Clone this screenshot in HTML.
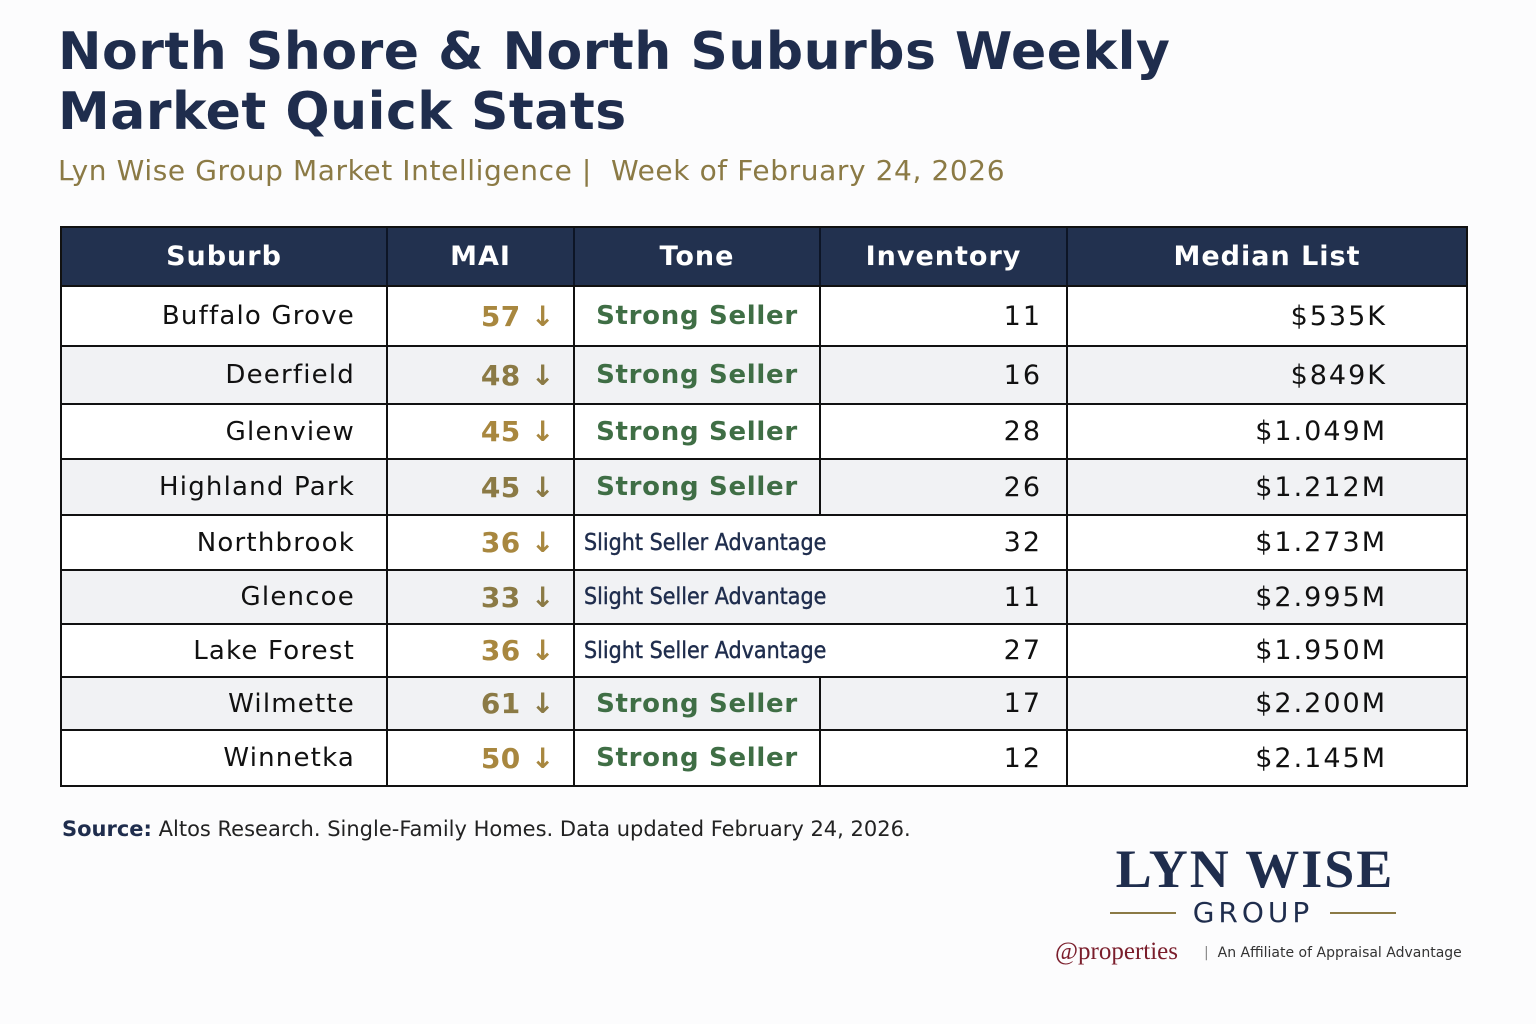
<!DOCTYPE html>
<html><head><meta charset="utf-8">
<style>
body{margin:0;width:1536px;height:1024px;background:#fcfcfd;position:relative;overflow:hidden;font-family:"DejaVu Sans","Liberation Sans",sans-serif}
.abs{position:absolute}
#title{left:58px;top:22px;font-weight:bold;font-size:52px;line-height:60px;color:#1f2d4d;letter-spacing:0.5px}
#sub{left:58px;top:154px;font-size:28px;color:#8b7a45;letter-spacing:0.6px}
#tbl{left:61px;top:227px;width:1406px;height:559px}
#frame{left:60px;top:226px;width:1408px;height:561px;border:2px solid #111;box-sizing:border-box;pointer-events:none}
.cell{position:absolute;box-sizing:border-box;display:flex;align-items:center;white-space:nowrap}
.hd{background:#22314f;color:#fff;font-weight:bold;font-size:27px;justify-content:center;letter-spacing:1px}
.vl{position:absolute;width:2px;background:#111}
.hl{position:absolute;height:2px;background:#111;left:0;width:1406px}
#src{left:62px;top:817px;font-size:21px;color:#222}
</style></head><body>
<div id="title" class="abs">North Shore &amp; North Suburbs Weekly<br>Market Quick Stats</div>
<div id="sub" class="abs">Lyn Wise Group Market Intelligence | &nbsp;Week of February 24, 2026</div>
<div id="tbl" class="abs"></div>
<div id="frame" class="abs"></div>
<div id="src" class="abs"><b style="color:#1f2d4d">Source:</b> Altos Research. Single-Family Homes. Data updated February 24, 2026.</div>
<div class="abs" style="left:1095px;top:838px;width:320px;text-align:center;font-family:'Liberation Serif',serif;font-weight:bold;font-size:54px;color:#1f2d4d;letter-spacing:2px">LYN WISE</div>
<div class="abs" style="left:1110px;top:896px;width:286px;height:34px">
<div class="abs" style="left:0;top:16px;width:66px;height:2px;background:#8b7a45"></div>
<div class="abs" style="left:68px;top:0;width:150px;text-align:center;font-size:28px;letter-spacing:4px;color:#1f2d4d">GROUP</div>
<div class="abs" style="left:220px;top:16px;width:66px;height:2px;background:#8b7a45"></div>
</div>
<div class="abs" style="left:1055px;top:938px;font-family:'Liberation Serif',serif;font-size:25px;color:#7a1d2b">@properties</div>
<div class="abs" style="left:1204px;top:945px;font-size:14px;color:#333"><span style="color:#888">|</span>&nbsp; An Affiliate of Appraisal Advantage</div>
<script>
const suburbs=["Buffalo Grove","Deerfield","Glenview","Highland Park","Northbrook","Glencoe","Lake Forest","Wilmette","Winnetka"];
const mai=[57,48,45,45,36,33,36,61,50];
const tones=["Strong Seller","Strong Seller","Strong Seller","Strong Seller","Slight Seller Advantage","Slight Seller Advantage","Slight Seller Advantage","Strong Seller","Strong Seller"];
const inventory=[11,16,28,26,32,11,27,17,12];
const medianList=["$535K","$849K","$1.049M","$1.212M","$1.273M","$2.995M","$1.950M","$2.200M","$2.145M"];
const headers=["Suburb","MAI","Tone","Inventory","Median List"];
const tbl=document.getElementById('tbl');
const colX=[0,326,513,759,1006,1406];
const rowY=[0,59,119,177,232,288,343,397,450,503,559];
function mk(x,y,w,h,cls,html,css){const d=document.createElement('div');d.className='cell '+cls;d.style.left=x+'px';d.style.top=y+'px';d.style.width=w+'px';d.style.height=h+'px';if(css)d.style.cssText+=css;d.innerHTML=html;tbl.appendChild(d);return d;}
headers.forEach((h,i)=>{const d=mk(colX[i],0,colX[i+1]-colX[i],59,'hd',h);

});
suburbs.forEach((s,r)=>{
 const y=rowY[r+1],h=rowY[r+2]-y,bg=r%2?'#f1f2f4':'#fff';
 const row=mk(0,y,1406,h,'','', 'background:'+bg);
 
 
 const a=mk(0,y,294,h,'',s,'justify-content:flex-end;font-size:26px;letter-spacing:1.2px;color:#111');
 
 
 const b=mk(326,y,168,h,'',mai[r]+' ↓','justify-content:flex-end;font-size:28px;font-weight:bold;letter-spacing:0.5px;color:'+(r%2?'#8b7a45':'#a8873f'));
 
 
 const slight=tones[r].startsWith('Slight');
 const c=slight?mk(523,y,320,h,'',tones[r],'font-size:23px;color:#1f2d4d;font-family:"DejaVu Sans Condensed","DejaVu Sans",sans-serif;font-stretch:condensed;-webkit-text-stroke:0.4px #1f2d4d')
  :mk(513,y,246,h,'',tones[r],'justify-content:center;font-size:26px;font-weight:bold;color:#3f6e45;letter-spacing:0.7px');
 
 
 const d=mk(759,y,222,h,'',String(inventory[r]),'justify-content:flex-end;font-size:27px;letter-spacing:2px;color:#111');
 
 
 const e=mk(1006,y,320,h,'',medianList[r],'justify-content:flex-end;font-size:27px;letter-spacing:2px;color:#111');
 
 
 [1,2,4].forEach(i=>{const v=document.createElement('div');v.className='vl';v.style.left=(colX[i]-1)+'px';v.style.top=y+'px';v.style.height=h+'px';tbl.appendChild(v);});
 if(!slight){const v=document.createElement('div');v.className='vl';v.style.left=(colX[3]-1)+'px';v.style.top=y+'px';v.style.height=h+'px';tbl.appendChild(v);}
});
[1,2,3,4].forEach(i=>{const v=document.createElement('div');v.className='vl';v.style.left=(colX[i]-1)+'px';v.style.top='0px';v.style.height='59px';v.style.background='#0d1526';tbl.appendChild(v);});
rowY.slice(1,-1).forEach(y=>{const l=document.createElement('div');l.className='hl';l.style.top=(y-1)+'px';tbl.appendChild(l);});
</script>
</body></html>
